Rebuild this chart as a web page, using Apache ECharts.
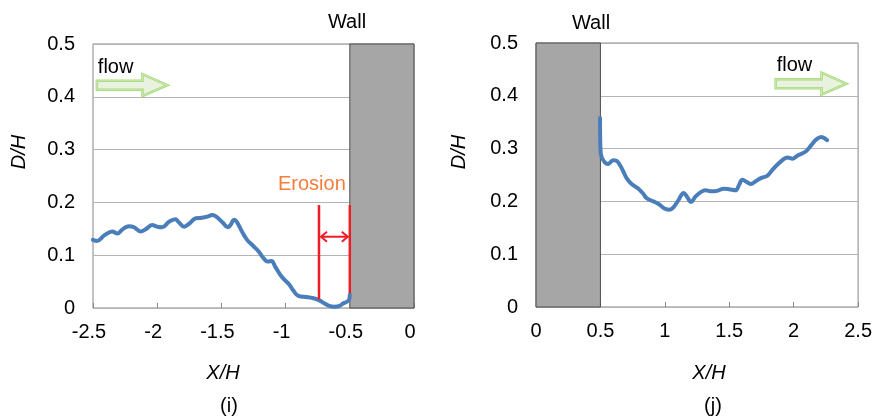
<!DOCTYPE html>
<html>
<head>
<meta charset="utf-8">
<title>Scour depth profiles</title>
<script src="https://cdn.jsdelivr.net/npm/echarts@6/dist/echarts.min.js"></script>
<style>
  html, body { margin: 0; padding: 0; background: #fff; }
  #chart { width: 875px; height: 417px; }
</style>
</head>
<body>
<div id="chart"></div>
<script>
// Axis ticks
const leftXTicks = [-2.5, -2, -1.5, -1, -0.5, 0];
const rightXTicks = [0, 0.5, 1, 1.5, 2, 2.5];
const yTicks = [0, 0.1, 0.2, 0.3, 0.4, 0.5];

// Upstream bed profile, panel (i)
const leftX = [-2.50,-2.47,-2.41,-2.35,-2.31,-2.27,-2.22,-2.18,-2.13,-2.09,-2.04,-2.00,-1.96,-1.91,-1.86,-1.83,-1.79,-1.75,-1.70,-1.65,-1.61,-1.57,-1.54,-1.49,-1.45,-1.43,-1.40,-1.38,-1.34,-1.30,-1.25,-1.21,-1.17,-1.14,-1.11,-1.08,-1.03,-0.97,-0.94,-0.90,-0.84,-0.79,-0.74,-0.70,-0.66,-0.62,-0.58,-0.55,-0.51,-0.50];
const leftY = [0.129,0.127,0.138,0.145,0.141,0.149,0.155,0.153,0.145,0.149,0.157,0.154,0.153,0.163,0.168,0.162,0.154,0.160,0.170,0.171,0.173,0.176,0.173,0.162,0.153,0.157,0.167,0.163,0.145,0.129,0.117,0.107,0.094,0.088,0.089,0.078,0.059,0.044,0.033,0.023,0.021,0.019,0.015,0.009,0.004,0.0025,0.004,0.009,0.014,0.025];

// Downstream bed profile, panel (j)
const rightX = [0.497,0.500,0.508,0.534,0.560,0.599,0.625,0.651,0.677,0.703,0.742,0.795,0.834,0.859,0.912,0.951,1.002,1.037,1.068,1.107,1.146,1.172,1.203,1.237,1.276,1.315,1.367,1.406,1.459,1.498,1.549,1.576,1.602,1.641,1.667,1.705,1.745,1.797,1.836,1.888,1.953,1.992,2.031,2.096,2.135,2.174,2.213,2.260];
const rightY = [0.358,0.301,0.285,0.274,0.271,0.278,0.277,0.269,0.257,0.244,0.233,0.224,0.214,0.206,0.200,0.195,0.186,0.184,0.189,0.203,0.216,0.209,0.199,0.209,0.217,0.221,0.219,0.220,0.224,0.223,0.221,0.231,0.241,0.236,0.233,0.238,0.244,0.249,0.260,0.273,0.283,0.281,0.287,0.295,0.306,0.317,0.322,0.316];

// Wall extents (X/H range, D/H range)
const leftWallX = [-0.5, 0];
const rightWallX = [0, 0.5];
const wallY = [0, 0.5];

// Flow arrows: [x start, x end, y]
const leftFlow = [-2.47, -1.92, 0.422];
const rightFlow = [1.86, 2.41, 0.423];

// Erosion extent: two bounding lines and the dimension arrow
const erosionX = [-0.74, -0.50];
const erosionTop = 0.195;
const erosionBottom = [0.016, 0.028];
const erosionArrowY = 0.135;
const erosionLabelY = 0.233;

const FONT = '"Liberation Sans", Arial, sans-serif';
const BLUE = '#4a7ebb';
const GRID_LINE = '#b4b4b4';
const BORDER = '#868686';

function pairs(xs, ys) { return xs.map((x, i) => [x, ys[i]]); }

function xAxisFor(ticks, gridIndex, shiftLeft) {
  return {
    type: 'value', gridIndex,
    min: ticks[0], max: ticks[ticks.length - 1], interval: ticks[1] - ticks[0],
    axisLine: { show: false },
    axisTick: { show: true, inside: true, length: 5, lineStyle: { color: BORDER } },
    splitLine: { show: false },
    axisLabel: { color: '#000', fontFamily: FONT, fontSize: 20, margin: 14,
                 padding: [0, shiftLeft * 2, 0, 0] }
  };
}
function yAxisFor(gridIndex) {
  return {
    type: 'value', gridIndex,
    min: yTicks[0], max: yTicks[yTicks.length - 1], interval: yTicks[1] - yTicks[0],
    axisLine: { show: false },
    axisTick: { show: false },
    splitLine: { show: true, lineStyle: { color: GRID_LINE, width: 1 } },
    axisLabel: { color: '#000', fontFamily: FONT, fontSize: 20, margin: 18 }
  };
}

function wallSeries(xr, idx) {
  return {
    type: 'line', xAxisIndex: idx, yAxisIndex: idx, data: [], silent: true,
    markArea: {
      silent: true,
      itemStyle: { color: '#a6a6a6', borderColor: '#4d4d4d', borderWidth: 1 },
      data: [[{ coord: [xr[0], wallY[0]] }, { coord: [xr[1], wallY[1]] }]]
    }
  };
}

function arrowRender(params, api) {
  const p0 = api.coord([api.value(0), api.value(2)]);
  const p1 = api.coord([api.value(1), api.value(2)]);
  const head = 25, shaft = 4.5, half = 11;
  const hx = p1[0] - head, y = p0[1];
  const pts = [
    [p0[0], y - shaft], [hx, y - shaft], [hx, y - half], [p1[0], y],
    [hx, y + half], [hx, y + shaft], [p0[0], y + shaft]
  ];
  return {
    type: 'group',
    children: [
      { type: 'polygon', shape: { points: pts },
        style: { fill: '#e9f2df', stroke: '#a6d97a', lineWidth: 2.5, lineJoin: 'miter' } },
      { type: 'polygon', shape: { points: pts },
        style: { fill: 'none', stroke: '#d4ecbf', lineWidth: 0.8 } },
      { type: 'text', x: p0[0] + 1, y: y - 18,
        style: { text: 'flow', fontFamily: FONT, fontSize: 20, fill: '#000',
                 align: 'left', verticalAlign: 'middle' } }
    ]
  };
}

function erosionRender(params, api) {
  const RED = '#ee1c25';
  const a = api.coord([erosionX[0], erosionTop]);
  const aB = api.coord([erosionX[0], erosionBottom[0]]);
  const b = api.coord([erosionX[1], erosionTop]);
  const bB = api.coord([erosionX[1], erosionBottom[1]]);
  const yA = api.coord([erosionX[0], erosionArrowY])[1];
  const lab = api.coord([erosionX[1], erosionLabelY]);
  const x0 = a[0] + 2, x1 = b[0] - 2, h = 5, w = 6;
  const ls = { stroke: RED, lineWidth: 2.5 };
  return {
    type: 'group',
    children: [
      { type: 'line', shape: { x1: a[0], y1: a[1], x2: aB[0], y2: aB[1] }, style: ls },
      { type: 'line', shape: { x1: b[0], y1: b[1], x2: bB[0], y2: bB[1] }, style: ls },
      { type: 'line', shape: { x1: x0, y1: yA, x2: x1, y2: yA }, style: { stroke: RED, lineWidth: 2 } },
      { type: 'polyline', shape: { points: [[x0 + w, yA - h], [x0, yA], [x0 + w, yA + h]] },
        style: { stroke: RED, lineWidth: 2, fill: 'none' } },
      { type: 'polyline', shape: { points: [[x1 - w, yA - h], [x1, yA], [x1 - w, yA + h]] },
        style: { stroke: RED, lineWidth: 2, fill: 'none' } },
      { type: 'text', x: lab[0] - 4, y: lab[1],
        style: { text: 'Erosion', fontFamily: FONT, fontSize: 20, fill: '#f47d3b',
                 align: 'right', verticalAlign: 'middle' } }
    ]
  };
}

function text(str, x, y, extra) {
  return Object.assign({
    type: 'text', x, y,
    style: Object.assign({ text: str, fontFamily: FONT, fontSize: 20, fill: '#000',
                           align: 'center', verticalAlign: 'middle' }, (extra && extra.style) || {})
  }, extra && extra.rotation !== undefined ? { rotation: extra.rotation } : {});
}

const chart = echarts.init(document.getElementById('chart'), null, { renderer: 'canvas' });
chart.setOption({
  animation: false,
  backgroundColor: '#fff',
  grid: [
    { left: 93, top: 44, width: 321, height: 264, show: true, borderColor: BORDER, borderWidth: 1, backgroundColor: '#fff' },
    { left: 536, top: 43, width: 324, height: 264, show: true, borderColor: BORDER, borderWidth: 1, backgroundColor: '#fff' }
  ],
  xAxis: [xAxisFor(leftXTicks, 0, 4), xAxisFor(rightXTicks, 1, 0)],
  yAxis: [yAxisFor(0), yAxisFor(1)],
  series: [
    wallSeries(leftWallX, 0),
    wallSeries(rightWallX, 1),
    {
      type: 'line', xAxisIndex: 0, yAxisIndex: 0, data: pairs(leftX, leftY),
      smooth: 0.4, symbol: 'none', clip: false, z: 4,
      lineStyle: { color: BLUE, width: 4, cap: 'round', join: 'round' }
    },
    {
      type: 'line', xAxisIndex: 1, yAxisIndex: 1, data: pairs(rightX, rightY),
      smooth: 0.4, symbol: 'none', clip: false, z: 4,
      lineStyle: { color: BLUE, width: 4, cap: 'round', join: 'round' }
    },
    { type: 'custom', xAxisIndex: 0, yAxisIndex: 0, data: [leftFlow], renderItem: arrowRender, clip: false, z: 5, silent: true },
    { type: 'custom', xAxisIndex: 1, yAxisIndex: 1, data: [rightFlow], renderItem: arrowRender, clip: false, z: 5, silent: true },
    { type: 'custom', xAxisIndex: 0, yAxisIndex: 0, data: [[0]], renderItem: erosionRender, clip: false, z: 6, silent: true }
  ],
  graphic: [
    text('Wall', 347, 22),
    text('Wall', 591, 23),
    text('X/H', 223, 373, { style: { fontStyle: 'italic' } }),
    text('X/H', 709, 373, { style: { fontStyle: 'italic' } }),
    text('D/H', 19, 152, { rotation: Math.PI / 2, style: { fontStyle: 'italic' } }),
    text('D/H', 459, 152, { rotation: Math.PI / 2, style: { fontStyle: 'italic' } }),
    text('(i)', 229, 406),
    text('(j)', 713, 406)
  ]
});
</script>
</body>
</html>
